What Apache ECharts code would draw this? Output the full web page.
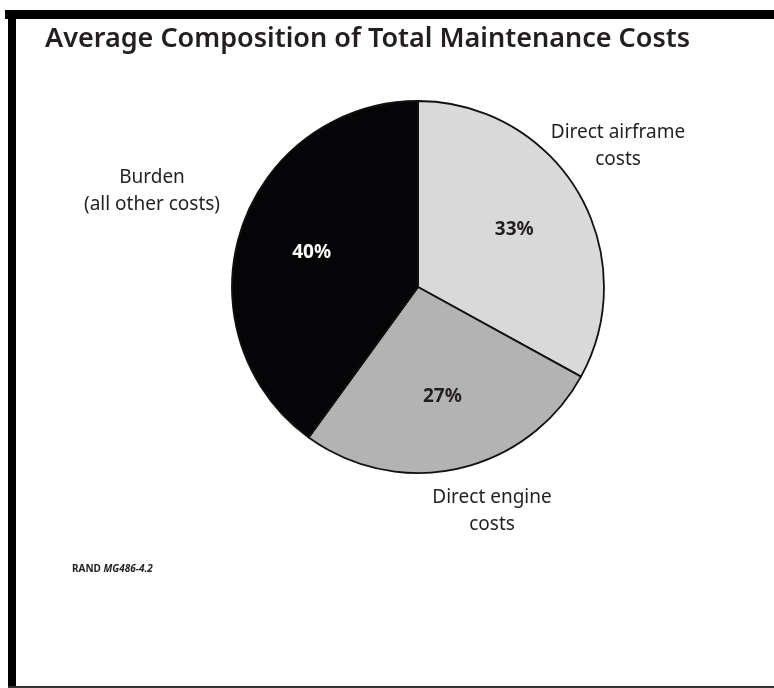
<!DOCTYPE html>
<html>
<head>
<meta charset="utf-8">
<title>Average Composition of Total Maintenance Costs</title>
<script src="https://cdn.jsdelivr.net/npm/echarts@6/dist/echarts.min.js"></script>
<style>
  html, body { margin: 0; padding: 0; background: #ffffff; }
  #chart { width: 774px; height: 688px; }
</style>
</head>
<body>
<div id="chart"></div>
<script>
// Cost categories, clockwise from 12 o'clock
const categories = ['Direct airframe costs', 'Direct engine costs', 'Burden (all other costs)'];
// Label text per category, broken over two lines
const categoryLabels = ['Direct airframe\ncosts', 'Direct engine\ncosts', 'Burden\n(all other costs)'];
// Share of total maintenance cost, percent
const shares = [33, 27, 40];
const sliceColors = ['#d9d9d9', '#b3b3b3', '#050507'];
const percentColors = ['#231f20', '#231f20', '#ffffff'];

const FONT = '"Noto Sans", "Open Sans", sans-serif';
const TEXT = '#231f20';
const CENTER = [418, 287];
const R = 186;

// where each category name sits around the pie
const namePos = [
  { x: 618, y: 146 },
  { x: 492, y: 511 },
  { x: 152, y: 191 }
];

const data = categories.map((name, i) => ({
  name: name,
  value: shares[i],
  itemStyle: { color: sliceColors[i] }
}));

const chart = echarts.init(document.getElementById('chart'), null, { renderer: 'canvas' });

chart.setOption({
  backgroundColor: '#ffffff',
  animation: false,
  title: {
    text: 'Average Composition of Total Maintenance Costs',
    left: 40,
    top: 21,
    textStyle: { fontFamily: FONT, fontSize: 27, fontWeight: 600, color: TEXT }
  },
  graphic: [
    // page frame
    { type: 'rect', shape: { x: 5, y: 10, width: 769, height: 9 }, style: { fill: '#000000' }, silent: true },
    { type: 'rect', shape: { x: 8, y: 10, width: 8, height: 678 }, style: { fill: '#000000' }, silent: true },
    { type: 'rect', shape: { x: 8, y: 686, width: 766, height: 2 }, style: { fill: '#333333' }, silent: true },
    // figure number
    {
      type: 'text', left: 72, top: 564, silent: true,
      style: {
        text: '{a|RAND }{b|MG486-4.2}',
        rich: {
          a: { fontFamily: FONT, fontSize: 10, fontWeight: 'bold', fill: TEXT },
          b: { fontFamily: FONT, fontSize: 10, fontWeight: 'bold', fontStyle: 'italic', fill: TEXT }
        }
      }
    }
  ],
  series: [
    {
      // the pie itself, category names placed around it
      type: 'pie',
      center: CENTER,
      radius: [0, R],
      startAngle: 90,
      clockwise: true,
      silent: true,
      data: data,
      itemStyle: { borderColor: '#111111', borderWidth: 1.8 },
      label: {
        show: true,
        position: 'outside',
        formatter: p => categoryLabels[p.dataIndex],
        fontFamily: FONT,
        fontSize: 19,
        lineHeight: 27,
        align: 'center',
        color: TEXT
      },
      labelLine: { show: false },
      labelLayout: p => ({
        x: namePos[p.dataIndex].x,
        y: namePos[p.dataIndex].y,
        align: 'center',
        verticalAlign: 'middle'
      })
    },
    {
      // transparent overlay carrying the percentage labels
      type: 'pie',
      center: CENTER,
      radius: [0, R * 1.17],
      startAngle: 90,
      clockwise: true,
      silent: true,
      z: 3,
      data: categories.map((name, i) => ({
        name: name,
        value: shares[i],
        itemStyle: { color: 'rgba(0,0,0,0)', borderWidth: 0 },
        label: { color: percentColors[i] }
      })),
      label: {
        show: true,
        position: 'inside',
        formatter: '{c}%',
        fontFamily: FONT,
        fontSize: 19,
        fontWeight: 'bold'
      },
      labelLine: { show: false }
    }
  ]
});
</script>
</body>
</html>
